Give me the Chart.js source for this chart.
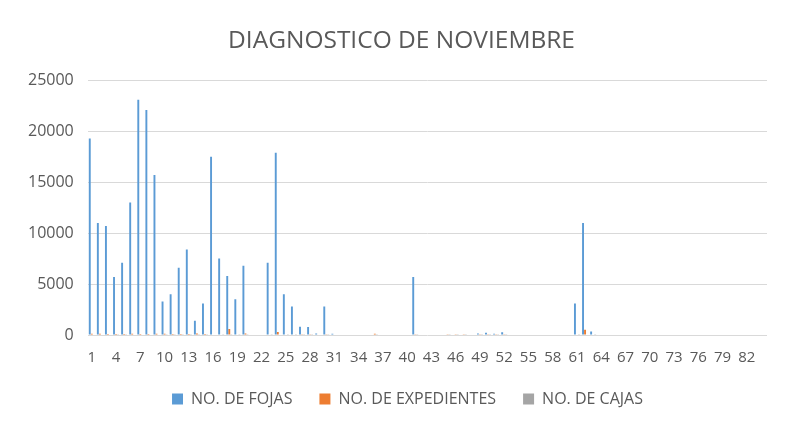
<!DOCTYPE html>
<html>
<head>
<meta charset="utf-8">
<script src="https://cdn.jsdelivr.net/npm/chart.js@4"></script>
<style>
  html, body { margin: 0; padding: 0; background: #fff; }
  #wrap { width: 790px; height: 426px; position: relative; }
</style>
</head>
<body>
<div id="wrap"><canvas id="myChart"></canvas></div>
<script>
// Categorias 1..84
const categorias = [];
for (let i = 1; i <= 84; i++) categorias.push(String(i));

const fojas = [
  19300, 11000, 10700, 5700, 7100, 13000, 23100, 22100, 15700, 3300,
  4000, 6600, 8400, 1400, 3100, 17500, 7500, 5800, 3500, 6800,
  0, 0, 7100, 17900, 4000, 2800, 800, 790, 150, 2800,
  120, 0, 0, 0, 0, 0, 0, 0, 0, 0,
  5700, 0, 0, 0, 0, 0, 0, 0, 150, 230,
  130, 260, 0, 0, 0, 0, 0, 0, 0, 0,
  3100, 11000, 350, 0, 0, 0, 0, 0, 0, 0,
  0, 0, 0, 0, 0, 0, 0, 0, 0, 0,
  0, 0, 0, 0
];

const expedientes = [
  130, 120, 110, 100, 110, 120, 100, 90, 120, 120,
  110, 100, 110, 150, 110, 60, 50, 600, 60, 150,
  0, 0, 50, 300, 40, 40, 30, 30, 0, 30,
  0, 0, 0, 0, 0, 120, 0, 0, 0, 0,
  30, 0, 0, 0, 30, 30, 30, 0, 30, 30,
  30, 30, 0, 0, 0, 0, 0, 0, 0, 0,
  60, 520, 40, 0, 0, 0, 0, 0, 0, 0,
  0, 0, 0, 0, 0, 0, 0, 0, 0, 0,
  0, 0, 0, 0
];

const cajas = [
  40, 40, 40, 30, 30, 40, 50, 50, 40, 30,
  30, 30, 30, 20, 30, 40, 30, 30, 30, 30,
  0, 0, 30, 40, 30, 30, 20, 20, 0, 20,
  0, 0, 0, 0, 0, 20, 0, 0, 0, 0,
  30, 0, 0, 0, 30, 30, 30, 0, 30, 30,
  30, 30, 0, 0, 0, 0, 0, 0, 0, 0,
  30, 40, 30, 0, 40, 40, 40, 40, 40, 40,
  40, 40, 40, 40, 40, 40, 0, 0, 0, 40,
  40, 40, 40, 40
];

const yTicks = [0, 5000, 10000, 15000, 20000, 25000];

const fuente = "'Open Sans', 'Liberation Sans', sans-serif";
const gris = '#595959';

// mover titulo y leyenda para que queden centrados como en el original
const moverCajas = {
    id: 'moverCajas',
    afterLayout(chart) {
        const t = chart.titleBlock;
        if (t) { t.left += 11; t.right += 11; }
        const l = chart.legend;
        if (l) { l.left += 17; l.right += 17; l.top -= 9; l.bottom -= 9; }
    }
};

const ctx = document.getElementById('myChart').getContext('2d');
var myChart = new Chart(ctx, {
    type: 'bar',
    data: {
        labels: categorias,
        datasets: [{
            label: 'NO. DE FOJAS',
            data: fojas,
            backgroundColor: '#5b9bd5'
        }, {
            label: 'NO. DE EXPEDIENTES',
            data: expedientes,
            backgroundColor: '#ed7d31'
        }, {
            label: 'NO. DE CAJAS',
            data: cajas,
            backgroundColor: '#a5a5a5'
        }]
    },
    plugins: [moverCajas],
    options: {
        responsive: true,
        maintainAspectRatio: false,
        animation: false,
        layout: { padding: { left: 14, right: 23, top: 22, bottom: 0 } },
        datasets: {
            bar: { categoryPercentage: 0.75, barPercentage: 0.95 }
        },
        plugins: {
            title: {
                display: true,
                text: 'DIAGNOSTICO DE NOVIEMBRE',
                color: gris,
                font: { family: fuente, size: 24.5, weight: 'normal' },
                padding: { top: 4, bottom: 25 }
            },
            legend: {
                position: 'bottom',
                labels: {
                    color: gris,
                    font: { family: fuente, size: 16 },
                    boxWidth: 11,
                    boxHeight: 11,
                    padding: 27
                }
            },
            tooltip: { enabled: false }
        },
        scales: {
            x: {
                grid: { display: false },
                border: { display: false },
                ticks: {
                    color: gris,
                    font: { family: fuente, size: 15 },
                    autoSkip: false,
                    maxRotation: 0,
                    padding: 6,
                    callback: function (val, index) {
                        return index % 3 === 0 ? categorias[index] : '';
                    }
                }
            },
            y: {
                min: 0,
                max: 25000,
                afterBuildTicks: function (axis) {
                    axis.ticks = yTicks.map(v => ({ value: v }));
                },
                grid: { color: '#d9d9d9', lineWidth: 1, drawTicks: false },
                border: { display: false },
                ticks: {
                    color: gris,
                    font: { family: fuente, size: 16 },
                    padding: 14,
                    callback: function (v) { return String(v); }
                }
            }
        }
    }
});
</script>
</body>
</html>
